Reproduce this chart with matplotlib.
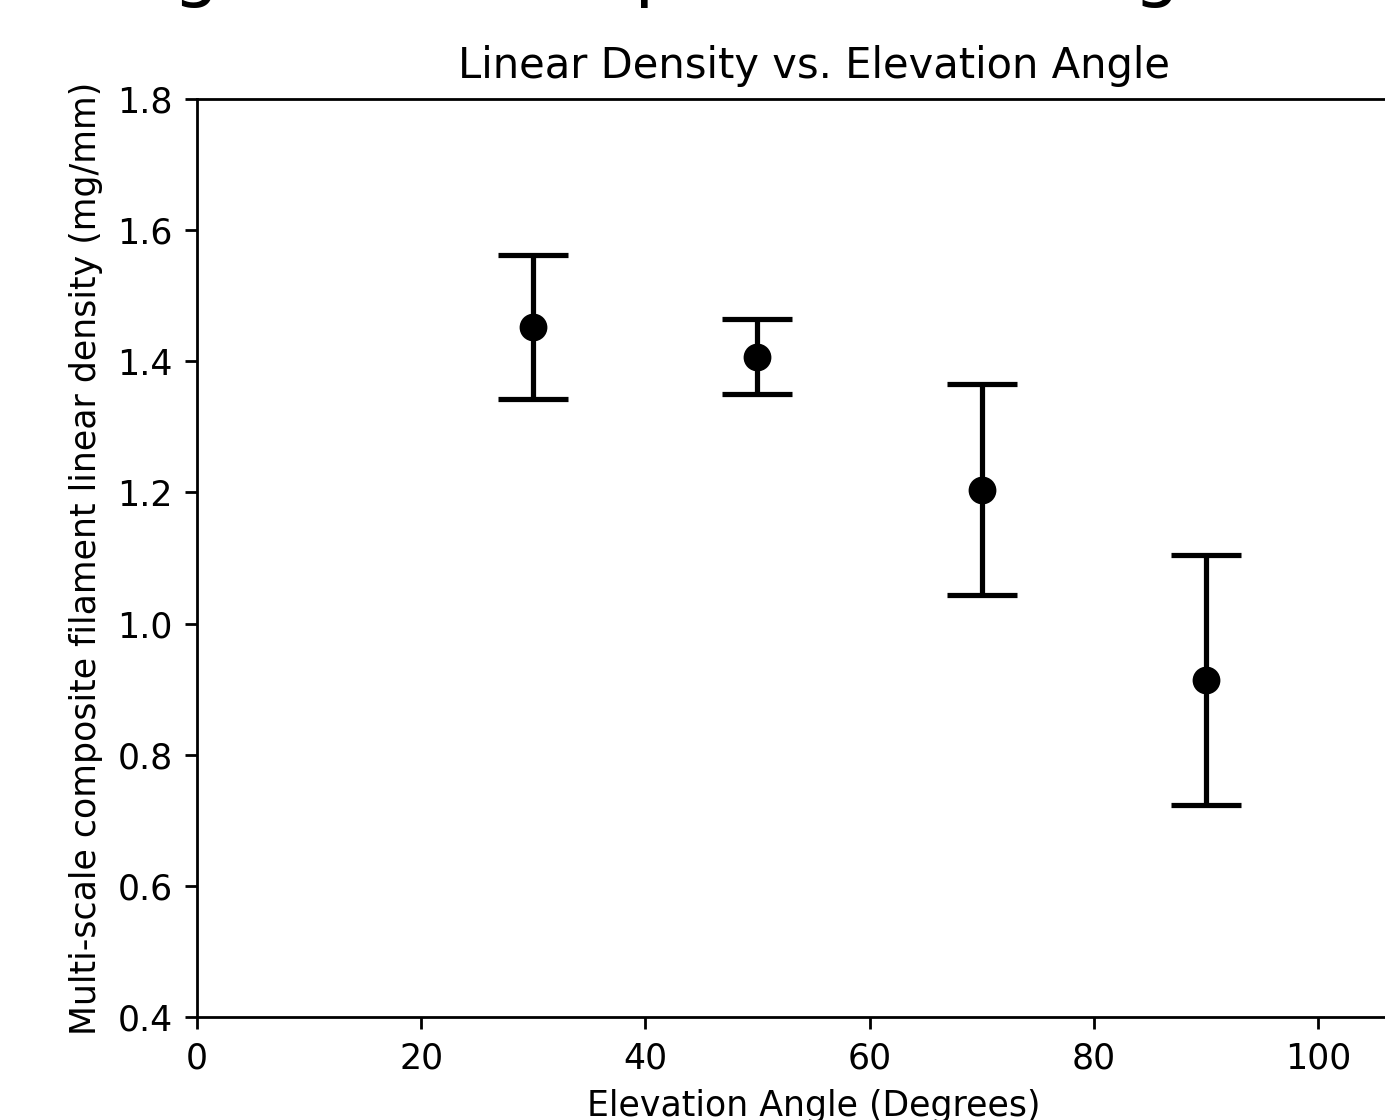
import matplotlib
matplotlib.use("Agg")
import matplotlib.pyplot as plt

angles = [30, 50, 70, 90]
density = [1.452, 1.407, 1.204, 0.914]
density_err = [0.110, 0.057, 0.161, 0.191]

DPI = 250
fig = plt.figure(figsize=(1385 / DPI, 1120 / DPI), dpi=DPI)
fig.text(0.0556, 1.006, "Angle and Composite Bending", fontsize=21,
         ha="left", va="baseline")

ax = fig.add_axes([197 / 1385, 103 / 1120, 1233 / 1385, 918 / 1120])
ax.errorbar(angles, density, yerr=density_err, fmt="o", color="black",
            ecolor="black", markersize=7, capsize=10, elinewidth=1.5,
            capthick=1.5)
ax.set_xlim(0, 110)
ax.set_ylim(0.4, 1.8)
ax.set_xticks([0, 20, 40, 60, 80, 100])
ax.set_yticks([0.4, 0.6, 0.8, 1.0, 1.2, 1.4, 1.6, 1.8])
ax.set_title("Linear Density vs. Elevation Angle", fontsize=12)
ax.set_xlabel("Elevation Angle (Degrees)")
ax.set_ylabel("Multi-scale composite filament linear density (mg/mm)")

fig.savefig("out.png", dpi=DPI)
